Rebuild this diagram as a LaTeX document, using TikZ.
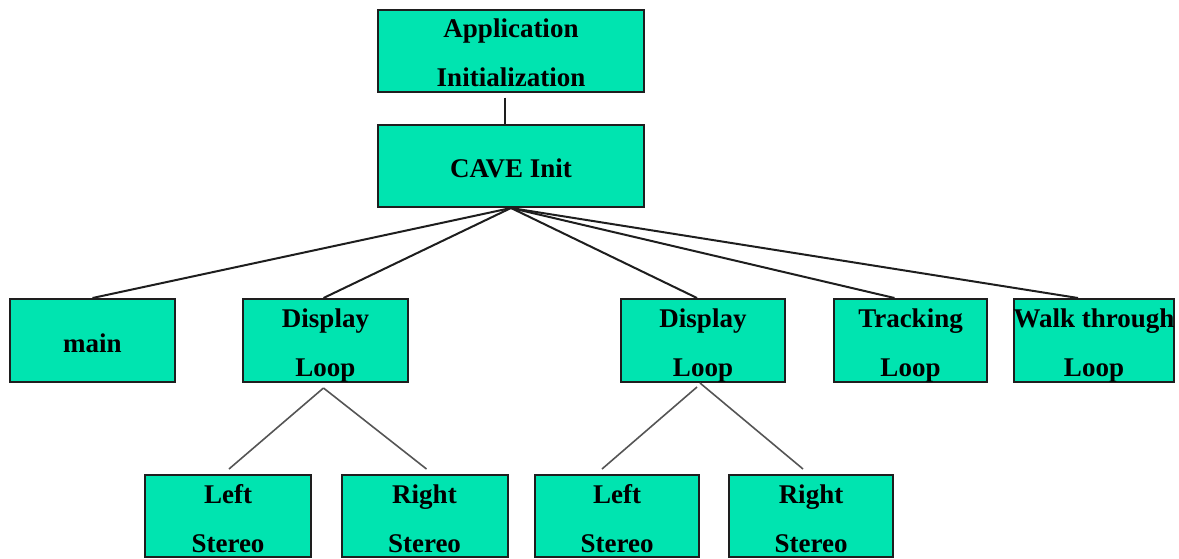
\documentclass[tikz,border=0pt]{standalone}
\usepackage{fontspec}
\setmainfont{Liberation Serif}
\definecolor{boxfill}{RGB}{0,228,176}
\definecolor{boxedge}{RGB}{30,30,30}
\definecolor{linkgray}{RGB}{85,85,85}
% fixed line box so every label line sits at the same height
\newcommand\lblstrut{\rule[-5pt]{0pt}{33pt}}
\newcommand\lbltwo[2]{\lblstrut#1\\\lblstrut#2}
\begin{document}
\begin{tikzpicture}[x=1pt,y=-1pt,
  box/.style={draw=boxedge, line width=2pt, fill=boxfill, inner sep=0pt,
    align=center, font=\fontsize{27}{49}\selectfont\bfseries},
  link/.style={line width=2pt, draw=boxedge},
  sublink/.style={line width=1.6pt, draw=linkgray}]
\useasboundingbox (0,0) rectangle (1179,558);

% top of the hierarchy
\node[box, minimum width=266, minimum height=81] (app)  at (511,50.5) {\lbltwo{Application}{Initialization}};
\node[box, minimum width=266, minimum height=82] (cave) at (511,166)  {\lblstrut CAVE Init};

% second level
\node[box, minimum width=165, minimum height=83] (main)  at (92.5,340.5)  {\lblstrut main};
\node[box, minimum width=165, minimum height=83] (disp1) at (325.5,340.5) {\lbltwo{Display}{Loop}};
\node[box, minimum width=164, minimum height=83] (disp2) at (703,340.5)   {\lbltwo{Display}{Loop}};
\node[box, minimum width=153, minimum height=83] (trk)   at (910.5,340.5) {\lbltwo{Tracking}{Loop}};
\node[box, minimum width=156, minimum height=83] (walk)  at (1094,340.5)  {\lbltwo{Walk through}{Loop}};

% stereo passes
\node[box, minimum width=166, minimum height=82] (ls1) at (228,516)   {\lbltwo{Left}{Stereo}};
\node[box, minimum width=166, minimum height=82] (rs1) at (424.5,516) {\lbltwo{Right}{Stereo}};
\node[box, minimum width=164, minimum height=82] (ls2) at (617,516)   {\lbltwo{Left}{Stereo}};
\node[box, minimum width=164, minimum height=82] (rs2) at (811,516)   {\lbltwo{Right}{Stereo}};

% connectors
\draw[link] ([shift={(-6,5)}]app.south) -- ([xshift=-6]cave.north);
\draw[link] (cave.south) -- (main.north);
\draw[link] (cave.south) -- ([xshift=-2]disp1.north);
\draw[link] (cave.south) -- ([xshift=-6]disp2.north);
\draw[link] (cave.south) -- ([xshift=-16]trk.north);
\draw[link] (cave.south) -- ([xshift=-16]walk.north);

\draw[sublink] ([shift={(-2,5)}]disp1.south) -- ([shift={(1,-5)}]ls1.north);
\draw[sublink] ([shift={(-2,5)}]disp1.south) -- ([shift={(2,-5)}]rs1.north);
\draw[sublink] ([shift={(-6,4)}]disp2.south) -- ([shift={(-15,-5)}]ls2.north);
\draw[sublink] ([shift={(-3,0)}]disp2.south) -- ([shift={(-8,-5)}]rs2.north);
\end{tikzpicture}
\end{document}
